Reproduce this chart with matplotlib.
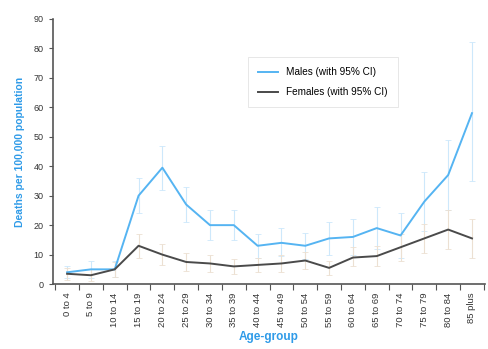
import numpy as np
import matplotlib.pyplot as plt

plt.rcParams['font.family'] = ['Liberation Sans', 'DejaVu Sans']

age_groups = ['0 to 4', '5 to 9', '10 to 14', '15 to 19', '20 to 24', '25 to 29',
              '30 to 34', '35 to 39', '40 to 44', '45 to 49', '50 to 54', '55 to 59',
              '60 to 64', '65 to 69', '70 to 74', '75 to 79', '80 to 84', '85 plus']

males = [4, 5, 5, 30, 39.5, 27, 20, 20, 13, 14, 13, 15.5, 16, 19, 16.5, 28, 37, 58]
males_lo = [2, 2, 2.5, 24, 32, 21, 15, 15, 9, 9.5, 8.5, 10, 10, 12, 9, 18, 25, 35]
males_hi = [6, 8, 8, 36, 47, 33, 25, 25, 17, 19, 17.5, 21, 22, 26, 24, 38, 49, 82]

females = [3.5, 3, 5, 13, 10, 7.5, 7, 6, 6.5, 7, 8, 5.5, 9, 9.5, 12.5, 15.5, 18.5, 15.5]
females_lo = [1.5, 1, 2.5, 9, 6.5, 4.5, 4, 3.5, 4, 4, 5, 3, 6, 6, 8, 10.5, 12, 9]
females_hi = [5.5, 5, 7.5, 17, 13.5, 10.5, 10, 8.5, 9, 10, 11, 8, 12.5, 13, 17, 20.5, 25, 22]

blue = '#55b4f2'
dark = '#4a4a4a'
label_blue = '#2f9be8'

fig = plt.figure(figsize=(4.89, 3.49), dpi=100)
ax = fig.add_axes([0.108, 0.186, 0.884, 0.760])

x = np.arange(len(age_groups))

# confidence intervals, drawn faintly behind the lines
ax.errorbar(x, males, yerr=[np.subtract(males, males_lo), np.subtract(males_hi, males)],
            fmt='none', ecolor='#cde8fb', elinewidth=0.8, capsize=2, capthick=0.6, zorder=1)
ax.errorbar(x, females, yerr=[np.subtract(females, females_lo), np.subtract(females_hi, females)],
            fmt='none', ecolor='#ece0d2', elinewidth=0.8, capsize=2, capthick=0.6, zorder=1)

ax.plot(x, males, color=blue, lw=1.4, label='Males (with 95% CI)', zorder=3)
ax.plot(x, females, color=dark, lw=1.4, label='Females (with 95% CI)', zorder=3)

ax.set_xlim(-0.6, len(age_groups) - 0.45)
ax.set_ylim(0, 90)
ax.set_yticks(range(0, 91, 10))
ax.set_xticks(x)
ax.set_xticklabels(age_groups, rotation=90, fontsize=6.8, color='#333333')
ax.set_xticks(np.arange(-0.5, len(age_groups), 1), minor=True)
ax.tick_params(axis='x', which='major', length=0, pad=6)
ax.tick_params(axis='x', which='minor', length=4, width=0.8, color='#555555')
ax.tick_params(axis='y', length=3, width=0.8, color='#555555', labelsize=6.5, labelcolor='#333333')

for side in ['top', 'right']:
    ax.spines[side].set_visible(False)
for side in ['left', 'bottom']:
    ax.spines[side].set_color('#555555')
    ax.spines[side].set_linewidth(1.2)

ax.set_ylabel('Deaths per 100,000 population', color=label_blue, fontsize=7.5,
              fontweight='bold', labelpad=6)
ax.set_xlabel('Age-group', color=label_blue, fontsize=8.5, fontweight='bold', labelpad=3)

leg = ax.legend(loc='upper left', bbox_to_anchor=(0.44, 0.875), fontsize=7.2,
                handlelength=2.0, borderpad=1.0, labelspacing=1.0, fancybox=False)
leg.get_frame().set_edgecolor('#dcdcdc')
leg.get_frame().set_linewidth(0.6)

plt.savefig('out.png', dpi=100)
